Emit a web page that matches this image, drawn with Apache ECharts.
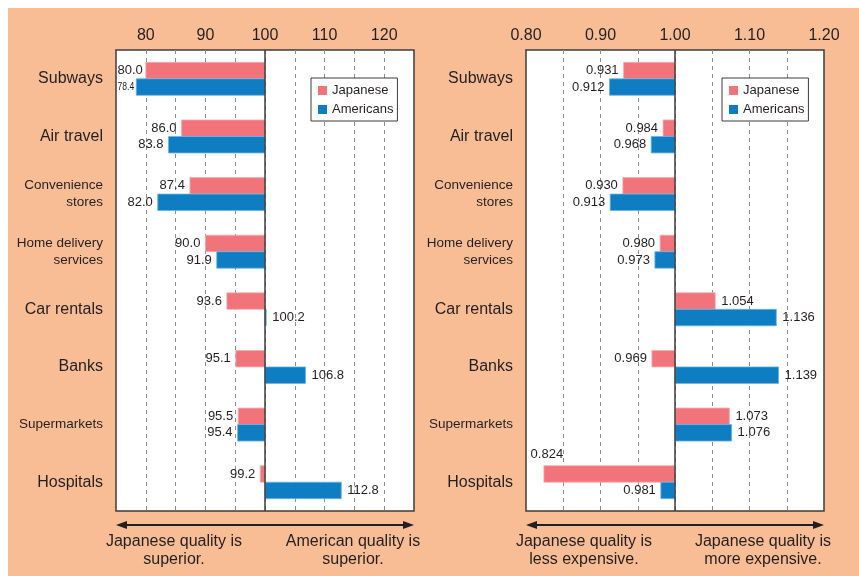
<!DOCTYPE html>
<html>
<head>
<meta charset="utf-8">
<script src="https://cdn.jsdelivr.net/npm/echarts@6/dist/echarts.min.js"></script>
<style>
  html, body { margin: 0; padding: 0; background: #fff; }
  #chart { width: 859px; height: 576px; }
</style>
</head>
<body>
<div id="chart"></div>
<script>
// Service categories (shared by both panels)
const categories = ['Subways', 'Air travel', 'Convenience\nstores', 'Home delivery\nservices',
  'Car rentals', 'Banks', 'Supermarkets', 'Hospitals'];

// Perceived quality index (100 = parity)
const qualityJapanese  = [80.0, 86.0, 87.4, 90.0, 93.6, 95.1, 95.5, 99.2];
const qualityAmericans = [78.4, 83.8, 82.0, 91.9, 100.2, 106.8, 95.4, 112.8];

// Price ratio (1.00 = parity)
const priceJapanese  = [0.931, 0.984, 0.930, 0.980, 1.054, 0.969, 1.073, 0.824];
const priceAmericans = [0.912, 0.968, 0.913, 0.973, 1.136, 1.139, 1.076, 0.981];

// Labelled ticks on each top axis
const qualityTicks = [80, 90, 100, 110, 120];
const priceTicks   = [0.80, 0.90, 1.00, 1.10, 1.20];

const seriesNames = ['Japanese', 'Americans'];
const footnotes = [
  ['Japanese quality is\nsuperior.', 'American quality is\nsuperior.'],
  ['Japanese quality is\nless expensive.', 'Japanese quality is\nmore expensive.']
];

// ---- styling ----
const FONT = '"Liberation Sans", Arial, Helvetica, sans-serif';
const INK = '#231f20';
const FRAME = '#3d3d3d';
const COLORS = ['#f07479', '#0f7dc2'];
const EDGES = ['#f8aeb0', '#6db4e2'];
const BAR_H = 16.5;
const GRID_TOP = 50, GRID_W = 298, GRID_H = 461;

const panels = [
  { left: 116, min: 75, max: 125, step: 5, base: 100, digits: 1, ticks: qualityTicks, tickDigits: 0,
    overflow: 'squeeze', values: [qualityJapanese, qualityAmericans], legendLeft: 311 },
  { left: 526, min: 0.8, max: 1.2, step: 0.05, base: 1, digits: 3, ticks: priceTicks, tickDigits: 2,
    overflow: 'above', values: [priceJapanese, priceAmericans], legendLeft: 722 }
];

const measureCtx = document.createElement('canvas').getContext('2d');
function textWidth(t, size) {
  measureCtx.font = size + 'px ' + FONT;
  return measureCtx.measureText(t).width;
}

// Bars grow from the panel's parity value toward each data value
function makeRenderItem(panel, sIdx) {
  return function (params, api) {
    const v = api.value(0), c = api.value(1);
    const p0 = api.coord([panel.base, c]);
    const p1 = api.coord([v, c]);
    const cs = params.coordSys;
    const y0 = sIdx === 0 ? p0[1] - BAR_H : p0[1];
    const rect = {
      type: 'rect',
      shape: { x: Math.min(p0[0], p1[0]), y: y0, width: Math.abs(p1[0] - p0[0]), height: BAR_H },
      style: { fill: COLORS[sIdx], stroke: EDGES[sIdx], lineWidth: 0.8 }
    };
    const label = v.toFixed(panel.digits);
    let size = 13, tx, ty = y0 + BAR_H / 2, align, scaleX = 1;
    let w = textWidth(label, size);
    if (v >= panel.base) {
      align = 'left';
      tx = p1[0] + 6;
    } else {
      align = 'right';
      tx = Math.max(p1[0] - 5, cs.x + 1.5 + w);
      if (tx > p1[0] - 2) {
        if (panel.overflow === 'above') {
          align = 'center';
          tx = p1[0] + 3;
          ty = y0 - 11;
        } else {
          size = 11;
          w = textWidth(label, size);
          tx = p1[0] - 2;
          scaleX = Math.min(1, (tx - cs.x - 1.5) / w);
        }
      }
    }
    return {
      type: 'group',
      children: [rect, {
        type: 'text', x: tx, y: ty, scaleX: scaleX,
        style: { text: label, align: align, verticalAlign: 'middle', fontSize: size, fontFamily: FONT, fill: INK }
      }]
    };
  };
}

const grid = [], xAxis = [], yAxis = [], series = [], legend = [];
const graphic = [
  { type: 'rect', shape: { x: 0, y: 0, width: 859, height: 8 }, style: { fill: '#fff' } },
  { type: 'rect', shape: { x: 0, y: 0, width: 8, height: 576 }, style: { fill: '#fff' } }
];

panels.forEach((panel, p) => {
  grid.push({ left: panel.left, top: GRID_TOP, width: GRID_W, height: GRID_H,
    show: true, backgroundColor: '#fff', borderColor: FRAME, borderWidth: 1.5 });

  xAxis.push({
    gridIndex: p, type: 'value', position: 'top',
    min: panel.min, max: panel.max, interval: panel.step,
    axisLine: { show: false }, axisTick: { show: false },
    splitLine: { show: true, showMinLine: false, showMaxLine: false,
      lineStyle: { color: '#8c8c8c', width: 1, type: [4, 4] } },
    axisLabel: {
      fontSize: 16, color: INK, fontFamily: FONT, margin: 6,
      showMinLabel: true, showMaxLabel: true,
      formatter: v => panel.ticks.some(t => Math.abs(t - v) < 1e-9) ? v.toFixed(panel.tickDigits) : ''
    }
  });

  yAxis.push({
    gridIndex: p, type: 'category', data: categories, inverse: true,
    axisLine: { show: false }, axisTick: { show: false },
    axisLabel: {
      margin: 13, fontSize: 16, color: INK, fontFamily: FONT,
      formatter: name => (name.includes('\n') || name.length > 11)
        ? name.split('\n').map(l => '{s|' + l + '}').join('\n') : name,
      rich: { s: { fontSize: 13.5, lineHeight: 17, color: INK, fontFamily: FONT } }
    }
  });

  panel.values.forEach((vals, sIdx) => {
    const s = {
      type: 'custom', name: seriesNames[sIdx],
      xAxisIndex: p, yAxisIndex: p,
      data: vals.map((v, i) => [v, i]),
      encode: { x: 0, y: 1 },
      itemStyle: { color: COLORS[sIdx] },
      renderItem: makeRenderItem(panel, sIdx),
      z: 3
    };
    if (sIdx === 0) {
      s.markLine = {
        silent: true, symbol: 'none', animation: false,
        label: { show: false },
        lineStyle: { color: FRAME, width: 1.5, type: 'solid' },
        data: [{ xAxis: panel.base }]
      };
    }
    series.push(s);
  });

  legend.push({
    left: panel.legendLeft, top: 78, orient: 'vertical',
    data: seriesNames.map(n => ({ name: n, icon: 'rect' })),
    itemWidth: 9, itemHeight: 9, itemGap: 6,
    padding: [6, 4, 5, 7],
    textStyle: { fontSize: 13, color: INK, fontFamily: FONT },
    borderColor: FRAME, borderWidth: 1, backgroundColor: '#fff',
    selectedMode: false, z: 10
  });

  // double-headed arrow under the panel with its two captions
  const x0 = panel.left, x1 = panel.left + GRID_W, ay = 525;
  graphic.push(
    { type: 'line', shape: { x1: x0 + 6, y1: ay, x2: x1 - 6, y2: ay }, style: { stroke: INK, lineWidth: 1.8 } },
    { type: 'polygon', shape: { points: [[x0, ay], [x0 + 11, ay - 4], [x0 + 11, ay + 4]] }, style: { fill: INK } },
    { type: 'polygon', shape: { points: [[x1, ay], [x1 - 11, ay - 4], [x1 - 11, ay + 4]] }, style: { fill: INK } },
    { type: 'text', x: x0 + 58, y: 533,
      style: { text: footnotes[p][0], align: 'center', verticalAlign: 'top', fontSize: 16, lineHeight: 17.5, fontFamily: FONT, fill: INK } },
    { type: 'text', x: x1 - 61, y: 533,
      style: { text: footnotes[p][1], align: 'center', verticalAlign: 'top', fontSize: 16, lineHeight: 17.5, fontFamily: FONT, fill: INK } }
  );
});

const chart = echarts.init(document.getElementById('chart'), null, { renderer: 'canvas' });
chart.setOption({
  animation: false,
  backgroundColor: '#f9bd96',
  grid, xAxis, yAxis, series, legend, graphic
});
</script>
</body>
</html>
